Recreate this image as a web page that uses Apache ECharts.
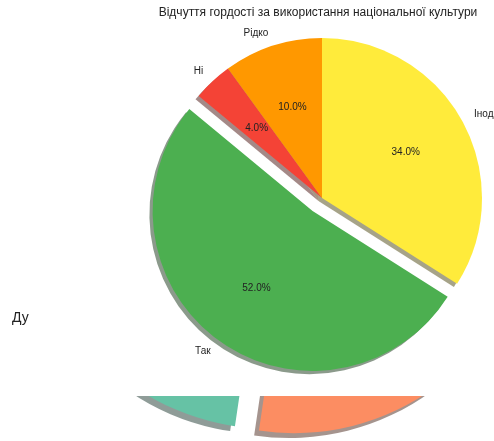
<!DOCTYPE html>
<html>
<head>
<meta charset="utf-8">
<script src="https://cdn.jsdelivr.net/npm/echarts@6/dist/echarts.min.js"></script>
<style>
  html, body { margin: 0; padding: 0; background: #ffffff; }
  #chart { width: 494px; height: 441px; }
</style>
</head>
<body>
<div id="chart"></div>
<script>
// Main pie: pride in using national culture
const titleText = 'Відчуття гордості за використання національної культури';
const categories = ['Іноді', 'Так', 'Ні', 'Рідко'];
const values = [34, 52, 4, 10];
const sliceColors = ['#FFEB3B', '#4CAF50', '#F44336', '#FF9800'];
const explodedCategories = ['Так'];

// Second pie, drawn underneath and mostly covered by the main panel
const lowerCategories = ['Група 1', 'Група 2'];
const lowerValues = [51, 49];
const lowerColors = ['#66c2a5', '#fc8d62'];
const sideText = 'Ду';

const FONT = 'Liberation Sans, Arial, sans-serif';
const TEXT_COLOR = '#222222';

const mainCenter = [322, 198];
const mainRadius = 160;
const mainExplode = 16;          // 0.1 of the radius
const mainShadowShift = 3.2;     // 0.02 of the radius

const lowerCenter = [282, 191];
const lowerRadius = 240;
const lowerStart = 78;
const lowerExplode = 12.2;
const lowerShadowShift = 4.8;

// darker, half-transparent copy of a slice colour, used for the drop shadow
function shadowOf(hex) {
  const n = parseInt(hex.slice(1), 16);
  const r = Math.round(((n >> 16) & 255) * 0.3);
  const g = Math.round(((n >> 8) & 255) * 0.3);
  const b = Math.round((n & 255) * 0.3);
  return `rgba(${r},${g},${b},0.5)`;
}

function pieData(names, vals, cols, selectedNames, mapColor) {
  return names.map((name, i) => ({
    name: name,
    value: vals[i],
    selected: selectedNames.indexOf(name) >= 0,
    itemStyle: { color: mapColor ? mapColor(cols[i]) : cols[i] }
  }));
}

const basePie = {
  type: 'pie',
  animation: false,
  silent: true,
  avoidLabelOverlap: false,
  selectedMode: 'multiple',
  startAngle: 90,
  emphasis: { disabled: true },
  select: { disabled: false, itemStyle: {} },
  itemStyle: { borderWidth: 0 },
  labelLine: { show: false }
};

const chart = echarts.init(document.getElementById('chart'), null, { renderer: 'canvas' });

chart.setOption({
  backgroundColor: '#ffffff',
  animation: false,
  title: {
    text: titleText,
    left: 318,
    top: 7,
    padding: 0,
    textAlign: 'center',
    textStyle: { fontFamily: FONT, fontSize: 12, fontWeight: 'normal', color: TEXT_COLOR }
  },
  graphic: [
    {
      type: 'rect',
      z: 2,
      silent: true,
      shape: { x: 0, y: 0, width: 494, height: 396 },
      style: { fill: '#ffffff' }
    },
    {
      type: 'text',
      z: 10,
      silent: true,
      style: {
        text: sideText,
        x: 12,
        y: 318,
        textVerticalAlign: 'middle',
        font: '14px ' + FONT,
        fill: TEXT_COLOR
      }
    }
  ],
  series: [
    Object.assign({}, basePie, {
      name: 'lower-shadow',
      z: 1,
      clockwise: false,
      startAngle: lowerStart,
      center: [lowerCenter[0] - lowerShadowShift, lowerCenter[1] + lowerShadowShift],
      radius: lowerRadius,
      selectedOffset: lowerExplode,
      label: { show: false },
      data: pieData(lowerCategories, lowerValues, lowerColors, lowerCategories, shadowOf)
    }),
    Object.assign({}, basePie, {
      name: 'lower',
      z: 1,
      clockwise: false,
      startAngle: lowerStart,
      center: lowerCenter,
      radius: lowerRadius,
      selectedOffset: lowerExplode,
      label: { show: false },
      data: pieData(lowerCategories, lowerValues, lowerColors, lowerCategories)
    }),
    Object.assign({}, basePie, {
      name: 'main-shadow',
      z: 3,
      center: [mainCenter[0] - mainShadowShift, mainCenter[1] + mainShadowShift],
      radius: mainRadius,
      selectedOffset: mainExplode,
      label: { show: false },
      data: pieData(categories, values, sliceColors, explodedCategories, shadowOf)
    }),
    Object.assign({}, basePie, {
      name: 'main',
      z: 4,
      center: mainCenter,
      radius: mainRadius,
      selectedOffset: mainExplode,
      label: {
        show: true,
        position: 'outside',
        formatter: '{b}',
        distanceToLabelLine: 0,
        fontFamily: FONT,
        fontSize: 10,
        color: TEXT_COLOR
      },
      labelLine: { show: false, length: 13.5, length2: 0 },
      data: pieData(categories, values, sliceColors, explodedCategories)
    }),
    Object.assign({}, basePie, {
      name: 'main-percent',
      z: 5,
      center: mainCenter,
      radius: [25, mainRadius],
      selectedOffset: mainExplode,
      label: {
        show: true,
        position: 'inside',
        formatter: p => p.percent.toFixed(1) + '%',
        fontFamily: FONT,
        fontSize: 10,
        color: TEXT_COLOR
      },
      data: pieData(categories, values, sliceColors, explodedCategories, () => 'rgba(0,0,0,0)')
    })
  ]
});
</script>
</body>
</html>
